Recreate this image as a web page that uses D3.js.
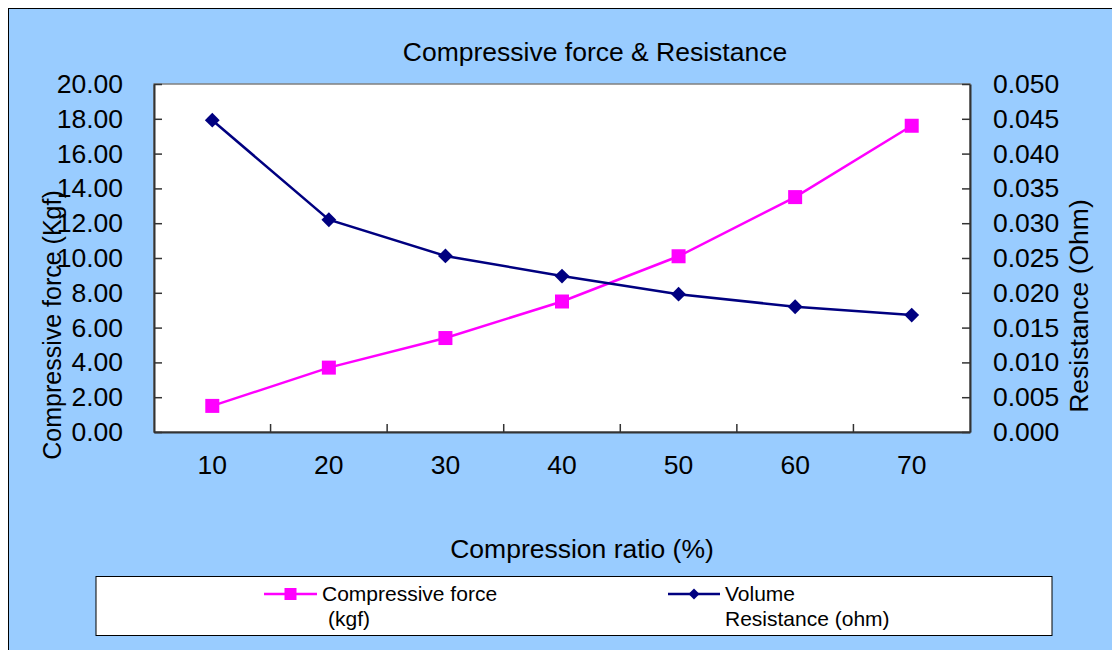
<!DOCTYPE html>
<html>
<head>
<meta charset="utf-8">
<script src="https://cdn.jsdelivr.net/npm/d3@7"></script>
<style>
body{margin:0;background:#fff;}
svg text{font-family:"Liberation Sans",Arial,sans-serif;fill:#000;}
</style>
</head>
<body>
<svg id="chart" width="1112" height="650"></svg>
<script>
// data
var ratios=["10","20","30","40","50","60","70"];
var force=[1.5,3.7,5.4,7.5,10.1,13.5,17.6];
var resistance=[0.0448,0.0305,0.0253,0.0224,0.0198,0.018,0.0168];
var forceTicks=[0,2,4,6,8,10,12,14,16,18,20];
var resTicks=[0,0.005,0.01,0.015,0.02,0.025,0.03,0.035,0.04,0.045,0.05];

var svg=d3.select("#chart");
var plotL=154,plotR=970,plotT=84,plotB=432;

// chart area background + border
svg.append("rect").attr("x",8.5).attr("y",8.5).attr("width",1120).attr("height",660)
    .attr("style","fill:#99ccff;stroke:#000;stroke-width:1");

// plot area
svg.append("rect").attr("x",plotL).attr("y",plotT).attr("width",plotR-plotL).attr("height",plotB-plotT)
    .attr("style","fill:#fff;stroke:#808080;stroke-width:1.5");

var x=d3.scaleBand().domain(ratios).range([plotL,plotR]);
var yL=d3.scaleLinear().domain([0,20]).range([plotB,plotT]);
var yR=d3.scaleLinear().domain([0,0.05]).range([plotB,plotT]);

// axes, ticks drawn inward like the original
var axL=svg.append("g").attr("transform","translate("+plotL+",0)")
    .call(d3.axisLeft(yL).tickValues(forceTicks).tickSizeInner(-8).tickSizeOuter(0).tickPadding(30).tickFormat(d3.format(".2f")));
var axR=svg.append("g").attr("transform","translate("+plotR+",0)")
    .call(d3.axisRight(yR).tickValues(resTicks).tickSizeInner(-8).tickSizeOuter(0).tickPadding(23).tickFormat(d3.format(".3f")));
var axB=svg.append("g").attr("transform","translate(0,"+plotB+")")
    .call(d3.axisBottom(x).tickSize(0).tickPadding(30));

// x ticks sit between categories
axB.selectAll(".cat-tick").data(ratios.slice(1)).enter().append("line")
    .attr("x1",function(d){return x(d);}).attr("x2",function(d){return x(d);})
    .attr("y1",0).attr("y2",-8).attr("style","stroke:#333;stroke-width:1.5");

[axL,axR,axB].forEach(function(a){
    a.selectAll(".domain").attr("style","stroke:#333;stroke-width:2");
    a.selectAll(".tick line").attr("style","stroke:#333;stroke-width:1.5");
    a.selectAll("text").attr("style","font-size:26.5px;fill:#000");
});
axL.selectAll("text").attr("x",-31);
axR.selectAll("text").attr("x",23);
axB.selectAll("text").attr("dy","0.71em").attr("y",23);

// lines
var cx=function(d,i){return x(ratios[i])+x.bandwidth()/2;};
svg.append("path").datum(force)
    .attr("d",d3.line().x(cx).y(function(d){return yL(d);}))
    .attr("style","fill:none;stroke:#ff00ff;stroke-width:2.5");
svg.append("path").datum(resistance)
    .attr("d",d3.line().x(cx).y(function(d){return yR(d);}))
    .attr("style","fill:none;stroke:#000080;stroke-width:2.5");

var sq=d3.symbol().type(d3.symbolSquare).size(196);
var dia=d3.symbol().type(d3.symbolSquare).size(110);
svg.selectAll(".fpt").data(force).enter().append("path")
    .attr("transform",function(d,i){return "translate("+cx(d,i)+","+yL(d)+")";})
    .attr("d",sq).attr("style","fill:#ff00ff");
svg.selectAll(".rpt").data(resistance).enter().append("path")
    .attr("transform",function(d,i){return "translate("+cx(d,i)+","+yR(d)+") rotate(45)";})
    .attr("d",dia).attr("style","fill:#000080");

// titles
svg.append("text").attr("x",595).attr("y",61).attr("text-anchor","middle")
    .attr("style","font-size:26.5px").text("Compressive force & Resistance");
svg.append("text").attr("x",582).attr("y",558).attr("text-anchor","middle")
    .attr("style","font-size:26.5px").text("Compression ratio (%)");
svg.append("text").attr("transform","translate(61,325) rotate(-90)").attr("text-anchor","middle")
    .attr("style","font-size:25px").text("Compressive force (Kgf)");
svg.append("text").attr("transform","translate(1088,306) rotate(-90)").attr("text-anchor","middle")
    .attr("style","font-size:26.5px").text("Resistance (Ohm)");

// legend
svg.append("rect").attr("x",96).attr("y",576.5).attr("width",956).attr("height",59)
    .attr("style","fill:#fff;stroke:#000;stroke-width:1");
var legend=[
    {x1:264,x2:317,y:594,color:"#ff00ff",size:144,rot:0,lines:["Compressive force","(kgf)"],tx:[322,328]},
    {x1:668,x2:720,y:594,color:"#000080",size:60,rot:45,lines:["Volume","Resistance (ohm)"],tx:[725,725]}
];
var lg=svg.selectAll(".lg").data(legend).enter().append("g");
lg.append("line")
    .attr("x1",function(d){return d.x1;}).attr("x2",function(d){return d.x2;})
    .attr("y1",function(d){return d.y;}).attr("y2",function(d){return d.y;})
    .attr("style",function(d){return "stroke:"+d.color+";stroke-width:2.5";});
lg.append("path")
    .attr("transform",function(d){return "translate("+(d.x1+d.x2)/2+","+d.y+") rotate("+d.rot+")";})
    .attr("d",function(d){return d3.symbol().type(d3.symbolSquare).size(d.size)();})
    .attr("style",function(d){return "fill:"+d.color;});
lg.append("text").attr("x",function(d){return d.tx[0];}).attr("y",601)
    .attr("style","font-size:21px").text(function(d){return d.lines[0];});
lg.append("text").attr("x",function(d){return d.tx[1];}).attr("y",626)
    .attr("style","font-size:21px").text(function(d){return d.lines[1];});
</script>
</body>
</html>
